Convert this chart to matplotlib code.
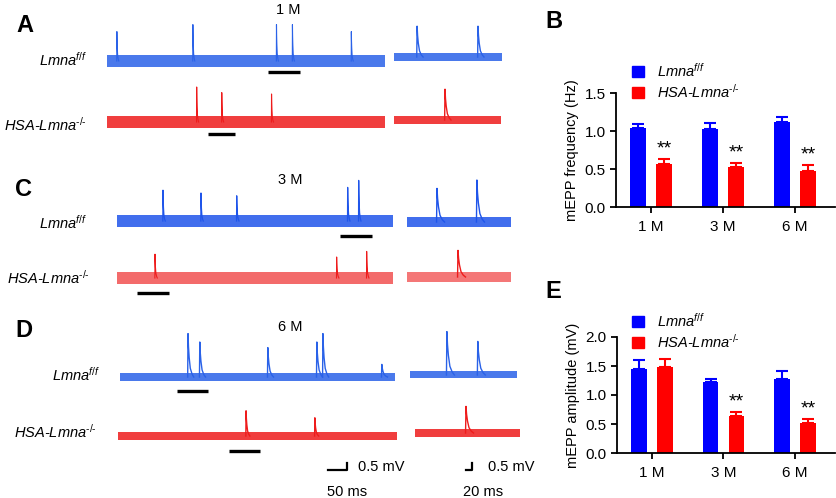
import matplotlib
matplotlib.use('Agg')
import matplotlib.pyplot as plt
import numpy as np
from matplotlib.patches import Patch

plt.rcParams['font.family'] = ['Liberation Sans', 'DejaVu Sans']
plt.rcParams['mathtext.fontset'] = 'custom'
plt.rcParams['mathtext.rm'] = 'Liberation Sans'
plt.rcParams['mathtext.it'] = 'Liberation Sans:italic'
plt.rcParams['mathtext.bf'] = 'Liberation Sans:bold'

# ---- bar chart data ----
ages = ['1 M', '3 M', '6 M']
freq_wt = [1.04, 1.03, 1.12]
freq_wt_err = [0.05, 0.07, 0.06]
freq_ko = [0.56, 0.52, 0.47]
freq_ko_err = [0.07, 0.055, 0.08]
amp_wt = [1.44, 1.22, 1.28]
amp_wt_err = [0.17, 0.06, 0.13]
amp_ko = [1.49, 0.64, 0.51]
amp_ko_err = [0.13, 0.06, 0.07]
freq_sig = ['**', '**', '**']
amp_sig = ['', '**', '**']

# ---- example traces: mEPP times (ms) and amplitudes (mV) ----
a_wt_t = [26, 226, 446, 488, 643]
a_wt_mv = [2.1, 2.6, 2.6, 2.6, 2.1]
a_ko_t = [236, 302, 433]
a_ko_mv = [2.5, 2.1, 2.0]
a_wt_in_t = [77, 280]
a_wt_in_mv = [2.2, 2.2]
a_ko_in_t = [170]
a_ko_in_mv = [2.2]

c_wt_t = [121, 221, 315, 607, 636]
c_wt_mv = [2.2, 2.0, 1.8, 2.4, 2.9]
c_ko_t = [100, 578, 657]
c_ko_mv = [1.7, 1.5, 1.9]
c_wt_in_t = [100, 233]
c_wt_in_mv = [2.4, 3.0]
c_ko_in_t = [170]
c_ko_in_mv = [1.9]

d_wt_t = [179, 210, 389, 518, 534, 689]
d_wt_mv = [3.1, 2.5, 2.1, 2.5, 3.1, 0.9]
d_ko_t = [337, 518]
d_ko_mv = [1.8, 1.3]
d_wt_in_t = [123, 226]
d_wt_in_mv = [3.1, 2.4]
d_ko_in_t = [170]
d_ko_in_mv = [1.9]

# segments shown enlarged on the right (ms)
a_wt_seg = (425, 509)
a_ko_seg = (265, 336)
c_wt_seg = (586, 670)
c_ko_seg = (53, 137)
d_wt_seg = (150, 231)
d_ko_seg = (292, 373)

# mEPP waveform (relative time, relative amplitude)
shape_t = [-0.3, 0.0, 0.4, 1.0, 2.0, 3.5, 5.0]
shape_v = [0.0, 1.0, 0.7, 0.45, 0.2, 0.07, 0.0]

W, H = 837, 498
fig = plt.figure(figsize=(W / 100, H / 100), dpi=100)

MV_PX = 14.0          # px per mV
MAIN_MS_PX = 50 / 19  # ms per px, main traces
INSET_MS_PX = 20 / 6  # ms per px, insets

BLUE_TR = '#2a62e8'
RED_TR = '#ee1c1c'


def px_rect(x0, y0, x1, y1):
    return [x0 / W, 1 - y1 / H, (x1 - x0) / W, (y1 - y0) / H]


def draw_trace(x0, x1, base, ms_px, times, amps, color, noise, decay, lw,
               alpha=0.85, seg=None, seg_y=None):
    ax = fig.add_axes(px_rect(x0, base - 55, x1, base + 25))
    dur = (x1 - x0) * ms_px
    ax.fill_between([0, dur], [-noise, -noise], [noise, noise],
                    color=color, lw=0, alpha=alpha)
    st = np.array(shape_t)
    sv = np.array(shape_v)
    for t, a in zip(times, amps):
        ax.plot(t + st * decay, a * sv, color=color, lw=lw)
    if seg is not None:
        ax.plot(seg, [seg_y, seg_y], color='black', lw=2.4,
                solid_capstyle='butt')
    ax.set_xlim(0, dur)
    ax.set_ylim(-25 / MV_PX, 55 / MV_PX)
    ax.axis('off')
    return ax


# Row A
draw_trace(107, 385, 61, MAIN_MS_PX, a_wt_t, a_wt_mv, BLUE_TR, 0.4, 1.0, 0.8,
           seg=a_wt_seg, seg_y=-0.75)
draw_trace(107, 385, 122, MAIN_MS_PX, a_ko_t, a_ko_mv, RED_TR, 0.4, 1.0, 0.8,
           seg=a_ko_seg, seg_y=-0.86)
draw_trace(394, 502, 57, INSET_MS_PX, a_wt_in_t, a_wt_in_mv, BLUE_TR, 0.28, 4, 1.0)
draw_trace(394, 501, 120, INSET_MS_PX, a_ko_in_t, a_ko_in_mv, RED_TR, 0.28, 4, 1.0)

# Row C
draw_trace(117, 393, 221, MAIN_MS_PX, c_wt_t, c_wt_mv, '#1f55ea', 0.42, 1.2, 0.9,
           seg=c_wt_seg, seg_y=-1.1)
draw_trace(117, 393, 278, MAIN_MS_PX, c_ko_t, c_ko_mv, RED_TR, 0.42, 1.2, 0.8,
           alpha=0.65, seg=c_ko_seg, seg_y=-1.07)
draw_trace(407, 511, 222, INSET_MS_PX, c_wt_in_t, c_wt_in_mv, '#1f55ea', 0.33, 5, 1.0)
draw_trace(407, 511, 277, INSET_MS_PX, c_ko_in_t, c_ko_in_mv, RED_TR, 0.33, 5, 1.0,
           alpha=0.6)

# Row D
draw_trace(120, 395, 377, MAIN_MS_PX, d_wt_t, d_wt_mv, BLUE_TR, 0.28, 3, 1.0,
           seg=d_wt_seg, seg_y=-1.0)
axd = draw_trace(118, 397, 436, MAIN_MS_PX, d_ko_t, d_ko_mv, RED_TR, 0.3, 2, 1.0,
                 seg=d_ko_seg, seg_y=-1.07)
draw_trace(410, 517, 375, INSET_MS_PX, d_wt_in_t, d_wt_in_mv, BLUE_TR, 0.25, 5, 1.0)
axdi = draw_trace(415, 520, 433, INSET_MS_PX, d_ko_in_t, d_ko_in_mv, RED_TR, 0.28, 5, 1.0)

# scale bars
axd.plot([552, 602, 602], [-2.43, -2.43, -1.93], color='black', lw=1.6,
         clip_on=False)
axd.text(631, -2.2, '0.5 mV', fontsize=10.5, va='center', ha='left')
axd.text(549, -4.0, '50 ms', fontsize=10.5, va='center', ha='left')
axdi.plot([170, 190, 190], [-2.64, -2.64, -2.14], color='black', lw=1.6,
          clip_on=False)
axdi.text(243, -2.43, '0.5 mV', fontsize=10.5, va='center', ha='left')
axdi.text(160, -4.2, '20 ms', fontsize=10.5, va='center', ha='left')


def ftext(x, y, s, **kw):
    fig.text(x / W, 1 - y / H, s, **kw)


# labels on the trace panels
wt_lab = 'Lmna$^{f/f}$'
ko_lab = r'HSA-Lmna$^{\text{-/-}}$'
for x, y, s in [(87, 60, wt_lab), (87, 125, ko_lab), (87, 223, wt_lab),
                (90, 278, ko_lab), (100, 375, wt_lab), (97, 432, ko_lab)]:
    ftext(x, y, s, fontsize=10.5, style='italic', ha='right', va='center')
for x, y, s in [(288, 10, '1 M'), (290, 180, '3 M'), (290, 327, '6 M')]:
    ftext(x, y, s, fontsize=10.5, ha='center', va='center')
for x, y, s in [(16, 25, 'A'), (545, 22, 'B'), (15, 189, 'C'),
                (15, 330, 'D'), (545, 292, 'E')]:
    ftext(x, y, s, fontsize=17, fontweight='bold', ha='left', va='center')


def bar_panel(rect, wt, wt_err, ko, ko_err, sig, ymax, yticks, ylabel, leg_top):
    ax = fig.add_axes(px_rect(*rect))
    x = np.arange(len(ages))
    off, w = 0.18, 0.22
    ax.bar(x - off, wt, w, color='#0000ff', zorder=2)
    ax.bar(x + off, ko, w, color='#ff0000', zorder=2)
    ax.errorbar(x - off, wt, yerr=[np.zeros(3), wt_err], fmt='none',
                ecolor='#0000ff', elinewidth=1.5, capsize=4.5, capthick=1.5)
    ax.errorbar(x + off, ko, yerr=[np.zeros(3), ko_err], fmt='none',
                ecolor='#ff0000', elinewidth=1.5, capsize=4.5, capthick=1.5)
    for i, s in enumerate(sig):
        if s:
            ax.text(x[i] + off, ko[i] + ko_err[i] + 0.015 * ymax, s,
                    ha='center', va='bottom', fontsize=14)
    ax.set_xlim(-0.486, 2.556)
    ax.set_ylim(0, ymax)
    ax.set_yticks(yticks)
    ax.set_yticklabels(['%.1f' % v for v in yticks])
    ax.set_xticks(x)
    ax.set_xticklabels(ages)
    ax.tick_params(labelsize=11, width=1.3, length=4, direction='out')
    ax.tick_params(axis='x', pad=5)
    for s in ['top', 'right']:
        ax.spines[s].set_visible(False)
    for s in ['left', 'bottom']:
        ax.spines[s].set_linewidth(1.3)
    ax.set_ylabel(ylabel, fontsize=10.5, labelpad=4)
    handles = [Patch(color='#0000ff', label=wt_lab),
               Patch(color='#ff0000', label=ko_lab)]
    leg = ax.legend(handles=handles, loc='upper left',
                    bbox_to_anchor=(632 / W, 1 - leg_top / H),
                    bbox_transform=fig.transFigure, frameon=False,
                    fontsize=10.5, handlelength=0.8, handleheight=0.8,
                    handletextpad=0.9, labelspacing=0.2, borderpad=0,
                    borderaxespad=0)
    for t in leg.get_texts():
        t.set_style('italic')
    return ax


bar_panel((616, 93, 835, 207), freq_wt, freq_wt_err, freq_ko, freq_ko_err,
          freq_sig, 1.5, [0, 0.5, 1.0, 1.5], 'mEPP frequency (Hz)', 62)
bar_panel((617, 337, 835, 453), amp_wt, amp_wt_err, amp_ko, amp_ko_err,
          amp_sig, 2.0, [0, 0.5, 1.0, 1.5, 2.0], 'mEPP amplitude (mV)', 312)

fig.savefig('out.png', dpi=100)
